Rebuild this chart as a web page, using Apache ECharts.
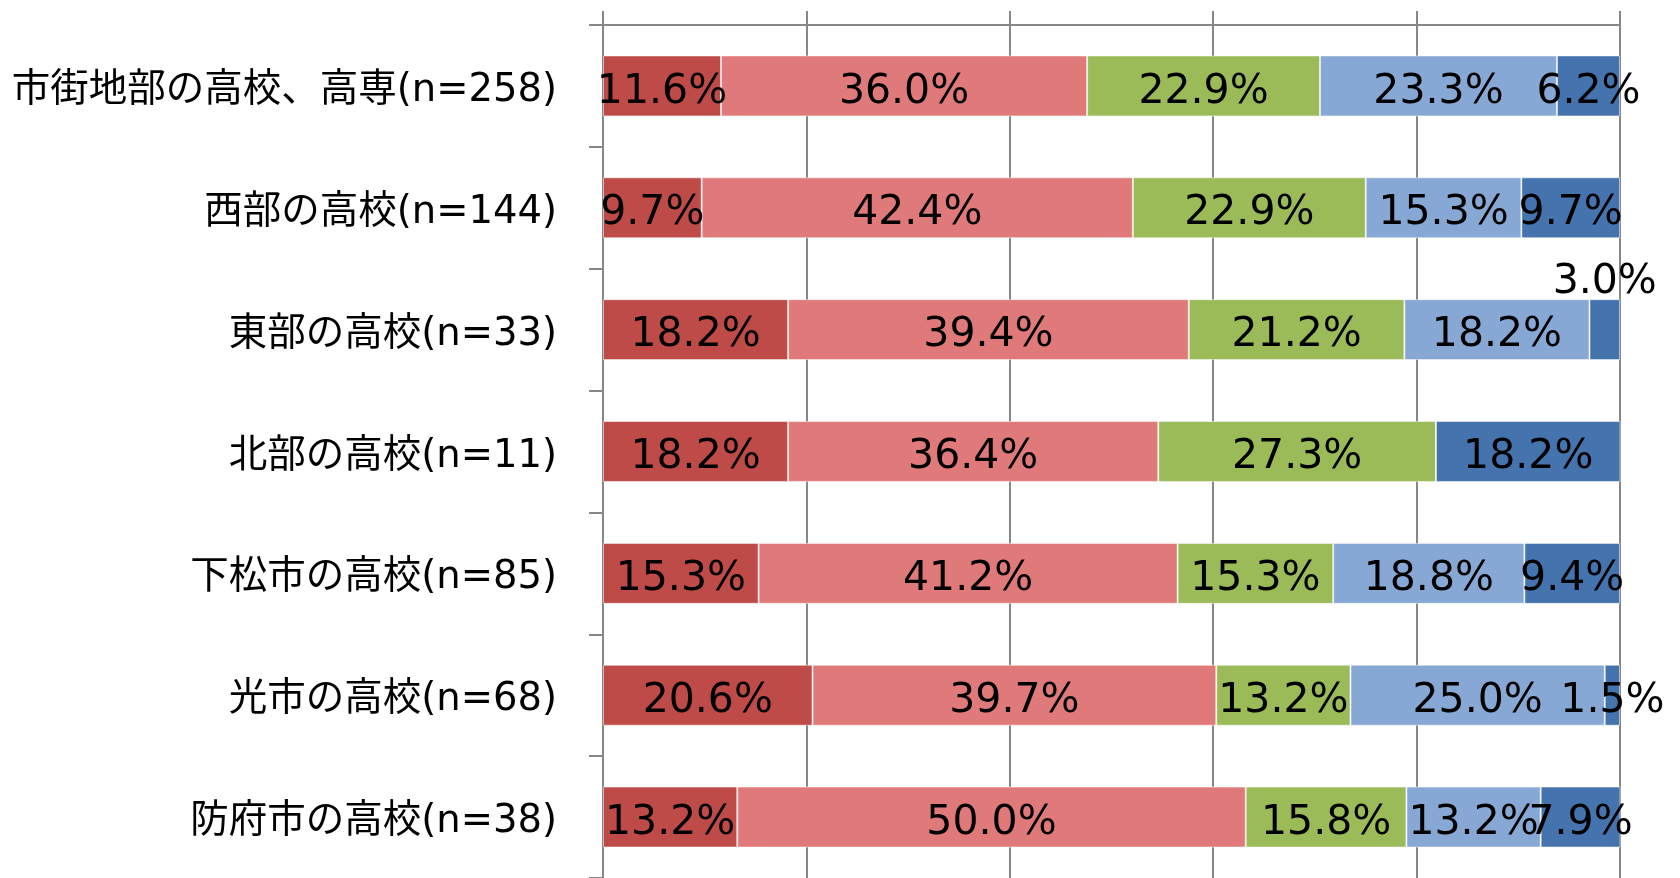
<!DOCTYPE html>
<html>
<head>
<meta charset="utf-8">
<script src="https://cdn.jsdelivr.net/npm/echarts@6/dist/echarts.min.js"></script>
<style>
  html, body { margin: 0; padding: 0; background: #fff; }
  #barChart { width: 1680px; height: 878px; }
</style>
</head>
<body>
<div id="barChart"></div>
<script>
// 地域別の回答割合（%）
const categories = [
    '市街地部の高校、高専(n=258)',
    '西部の高校(n=144)',
    '東部の高校(n=33)',
    '北部の高校(n=11)',
    '下松市の高校(n=85)',
    '光市の高校(n=68)',
    '防府市の高校(n=38)'
];
const s1 = [11.6, 9.7, 18.2, 18.2, 15.3, 20.6, 13.2];
const s2 = [36.0, 42.4, 39.4, 36.4, 41.2, 39.7, 50.0];
const s3 = [22.9, 22.9, 21.2, 27.3, 15.3, 13.2, 15.8];
const s4 = [23.3, 15.3, 18.2, 0, 18.8, 25.0, 13.2];
const s5 = [6.2, 9.7, 3.0, 18.2, 9.4, 1.5, 7.9];
const colors = ['#be4b48', '#e07a7a', '#9bbb59', '#87a8d4', '#4473ad'];

const fontFamily = '"DejaVu Sans", "Noto Sans CJK JP", sans-serif';

function makeSeries(data, idx) {
    return {
        type: 'bar',
        stack: 'total',
        barWidth: '50%',
        itemStyle: { color: colors[idx], borderColor: 'rgba(255,255,255,0.5)', borderWidth: 1 },
        label: {
            show: true,
            position: 'inside',
            offset: [0, 6],
            color: '#000',
            fontSize: 41,
            fontFamily: fontFamily,
            formatter: p => p.value > 0 ? p.value.toFixed(1) + '%' : ''
        },
        data: data.map((v, i) => {
            // 3.0% は棒の上に表示
            if (idx === 4 && v === 3.0) {
                return { value: v, label: { position: 'top', distance: 0, offset: [0, 4] } };
            }
            return v;
        })
    };
}

const option = {
    animation: false,
    grid: { left: 603, top: 25, width: 1017, height: 856 },
    xAxis: {
        type: 'value',
        position: 'top',
        min: 0,
        max: 100,
        interval: 20,
        axisLine: { show: true, lineStyle: { color: '#878787', width: 2 } },
        axisTick: { show: true, length: 14, lineStyle: { color: '#878787', width: 2 } },
        axisLabel: { show: false },
        splitLine: { show: true, lineStyle: { color: '#878787', width: 2 } }
    },
    yAxis: {
        type: 'category',
        inverse: true,
        data: categories,
        axisLine: { show: true, lineStyle: { color: '#878787', width: 2 } },
        axisTick: { show: true, length: 14, lineStyle: { color: '#878787', width: 2 } },
        axisLabel: {
            margin: 46,
            formatter: v => '{t|' + v + '}',
            rich: {
                t: {
                    color: '#000',
                    fontSize: 38.5,
                    fontFamily: fontFamily,
                    padding: [10, 0, 0, 0]
                }
            }
        }
    },
    series: [s1, s2, s3, s4, s5].map(makeSeries)
};

const myChart = echarts.init(document.getElementById('barChart'));
myChart.setOption(option);
</script>
</body>
</html>
